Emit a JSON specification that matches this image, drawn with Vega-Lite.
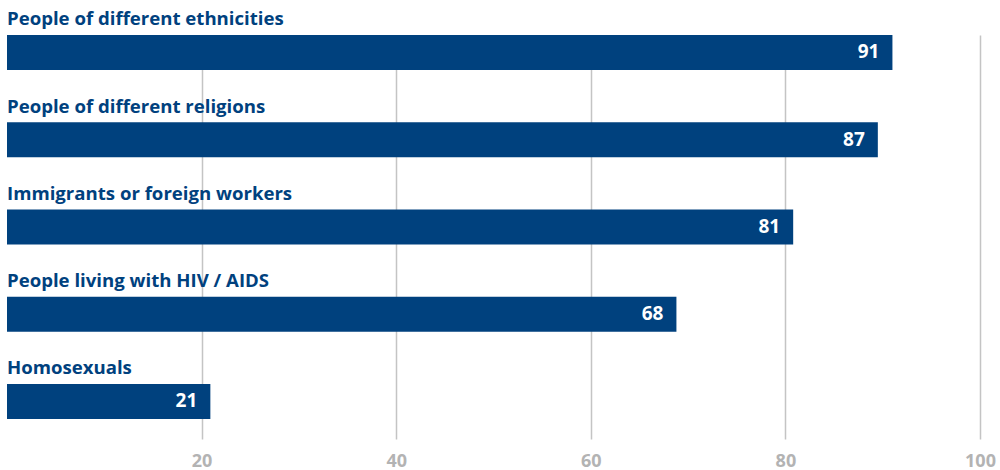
{
  "$schema": "https://vega.github.io/schema/vega-lite/v6.json",
  "autosize": {"type": "none"},
  "padding": {"left": 7, "top": 35, "right": 20, "bottom": 31},
  "width": 973,
  "height": 404,
  "background": "white",
  "config": {"view": {"stroke": null}},
  "data": {"values": [
    {"group": "People of different ethnicities", "value": 91, "label": 91},
    {"group": "People of different religions", "value": 89.5, "label": 87},
    {"group": "Immigrants or foreign workers", "value": 80.8, "label": 81},
    {"group": "People living with HIV / AIDS", "value": 68.8, "label": 68},
    {"group": "Homosexuals", "value": 20.9, "label": 21}
  ]},
  "encoding": {
    "y": {"field": "group", "type": "nominal", "sort": null, "axis": null,
      "scale": {"paddingInner": 0.6, "paddingOuter": 0.115, "align": 0}}
  },
  "layer": [
    {
      "mark": {"type": "bar", "color": "#00417e"},
      "encoding": {
        "x": {"field": "value", "type": "quantitative",
          "scale": {"domain": [0, 100], "nice": false},
          "axis": {"values": [20, 40, 60, 80, 100], "title": null, "domain": false, "ticks": false,
            "grid": true, "gridColor": "#c4c4c4", "gridWidth": 1.5,
            "labelFont": "Open Sans", "labelFontWeight": "bold", "labelFontSize": 18, "labelColor": "#b3b3b3",
            "labelBaseline": "alphabetic", "labelPadding": 27, "labelFlush": false}}
      }
    },
    {
      "mark": {"type": "text", "align": "right", "baseline": "middle", "dx": -13, "color": "white",
        "font": "Open Sans", "fontWeight": "bold", "fontSize": 19},
      "encoding": {
        "x": {"field": "value", "type": "quantitative"},
        "text": {"field": "label", "type": "quantitative"}
      }
    },
    {
      "mark": {"type": "text", "align": "left", "baseline": "alphabetic", "dy": -27, "color": "#00417e",
        "font": "Open Sans", "fontWeight": "bold", "fontSize": 18.6},
      "encoding": {
        "x": {"datum": 0, "type": "quantitative"},
        "text": {"field": "group"}
      }
    }
  ]
}
